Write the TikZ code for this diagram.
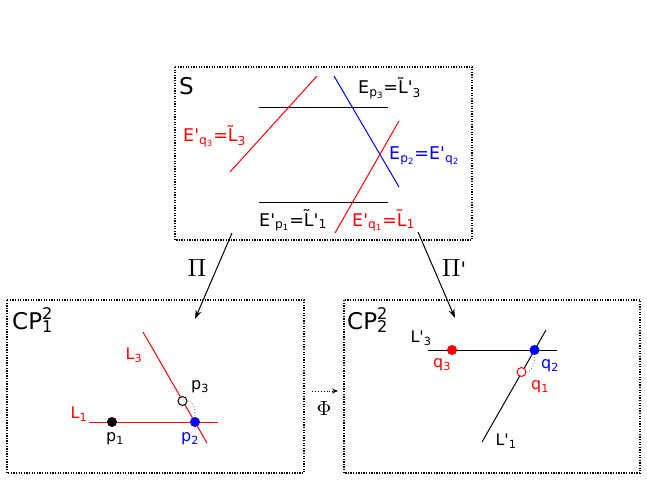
\documentclass[tikz,border=0pt]{standalone}
\usepackage{fontspec}
\setmainfont{DejaVu Sans}[Ligatures=TeXOff]
\usetikzlibrary{arrows.meta}
\begin{document}
\begin{tikzpicture}[x=1pt,y=-1pt,
 box/.style={draw, line width=1.2pt, dash pattern=on 1.3pt off 1.3pt},
 ln/.style={line width=1pt},
 lbl/.style={inner sep=0pt, font=\fontsize{16}{18}\selectfont},
 elbl/.style={inner sep=0pt, anchor=base west, font=\fontsize{17.5}{19}\selectfont},
 big/.style={inner sep=0pt, anchor=base west, font=\fontsize{23}{25}\selectfont},
 greek/.style={inner sep=0pt, font=\fontsize{10}{12}\selectfont},
 fdot/.style={circle, fill, inner sep=0pt, minimum size=10pt},
 odot/.style={circle, draw, fill=white, line width=1pt, inner sep=0pt, minimum size=9pt},
 arr/.style={-{Stealth[length=9pt,width=6pt]}, line width=1pt},
 conn/.style={gray, dotted, line width=0.9pt}]
\useasboundingbox (0,0) rectangle (647,481);

% boxes
\draw[box] (175,67) rectangle (472,240);
\draw[box] (7,300) rectangle (304,473);
\draw[box] (344,300) rectangle (640,473);

% surface S
\node[big] (S) at (179,95) {S};
\draw[ln] (259,108) -- (388,108);
\draw[ln] (259,202) -- (388,202);
\draw[ln, red] (230,172) -- (317,76);
\draw[ln, blue] (334,76) -- (399,187);
\draw[ln, red] (335,233) -- (399,121);
\node[elbl] (ep3) at (358,94) {E\textsubscript{p\textsubscript{3}}=L̃'\textsubscript{3}};
\node[elbl, red] (eq3) at (183,142) {E'\textsubscript{q\textsubscript{3}}=L̃\textsubscript{3}};
\node[elbl, blue] (ep2) at (389,160) {E\textsubscript{p\textsubscript{2}}=E'\textsubscript{q\textsubscript{2}}};
\node[elbl] (ep1) at (259,226) {E'\textsubscript{p\textsubscript{1}}=L̃'\textsubscript{1}};
\node[elbl, red] (eq1) at (352,226) {E'\textsubscript{q\textsubscript{1}}=L̃\textsubscript{1}};

% projections
\coordinate (pis) at (232,233);
\coordinate (pie) at (195,319);
\coordinate (pps) at (418,232);
\coordinate (ppe) at (455,318);
\draw[arr] (pis) -- (pie);
\draw[arr] (pps) -- (ppe);
\node[greek] (Pi) at (197,268) {\scalebox{2.5}{$\Pi$}};
\node[greek] (Pip) at (454,268) {\scalebox{2.5}{$\Pi$}\fontsize{20}{22}\selectfont'};

% CP^2_1
\node[big] (cp1) at (12,329) {CP\rlap{\textsuperscript{2}}\textsubscript{1}};
\draw[ln, red] (89,422) -- (218,422);
\draw[ln, red] (143,332) -- (207,443);
\node[fdot, black] (p1) at (112,422) {};
\node[fdot, blue] (p2) at (195,422) {};
\node[odot] (p3) at (182.5,401) {};
\draw[conn] (p3.east) to[out=0,in=90] (p2.north);
\node[lbl, red] (L3) at (134,355) {L\textsubscript{3}};
\node[lbl, red] (L1) at (79,414) {L\textsubscript{1}};
\node[lbl] (p1l) at (115,439) {p\textsubscript{1}};
\node[lbl, blue] (p2l) at (190,439) {p\textsubscript{2}};
\node[lbl] (p3l) at (200,387) {p\textsubscript{3}};

% Phi
\coordinate (phs) at (312,391);
\coordinate (phe) at (338,391);
\draw[-{Stealth[length=6pt,width=5pt]}, line width=0.9pt, dotted] (phs) -- (phe);
\node[greek] (Phi) at (324,408) {\scalebox{2.05}{$\Phi$}};

% CP^2_2
\node[big] (cp2) at (347,329) {CP\rlap{\textsuperscript{2}}\textsubscript{2}};
\draw[ln] (428,350) -- (557,350);
\draw[ln] (482,442) -- (546,330);
\node[fdot, red] (q3) at (452,350) {};
\node[fdot, blue] (q2) at (534.5,350) {};
\node[odot, draw=red] (q1) at (521.5,372) {};
\draw[conn] (q1.east) to[out=10,in=-90] (q2.south);
\node[lbl] (L3p) at (421,338) {L'\textsubscript{3}};
\node[lbl, red] (q3l) at (442,365) {q\textsubscript{3}};
\node[lbl, blue] (q2l) at (550,366) {q\textsubscript{2}};
\node[lbl, red] (q1l) at (540,387) {q\textsubscript{1}};
\node[lbl] (L1p) at (506,441) {L'\textsubscript{1}};
\end{tikzpicture}
\end{document}
